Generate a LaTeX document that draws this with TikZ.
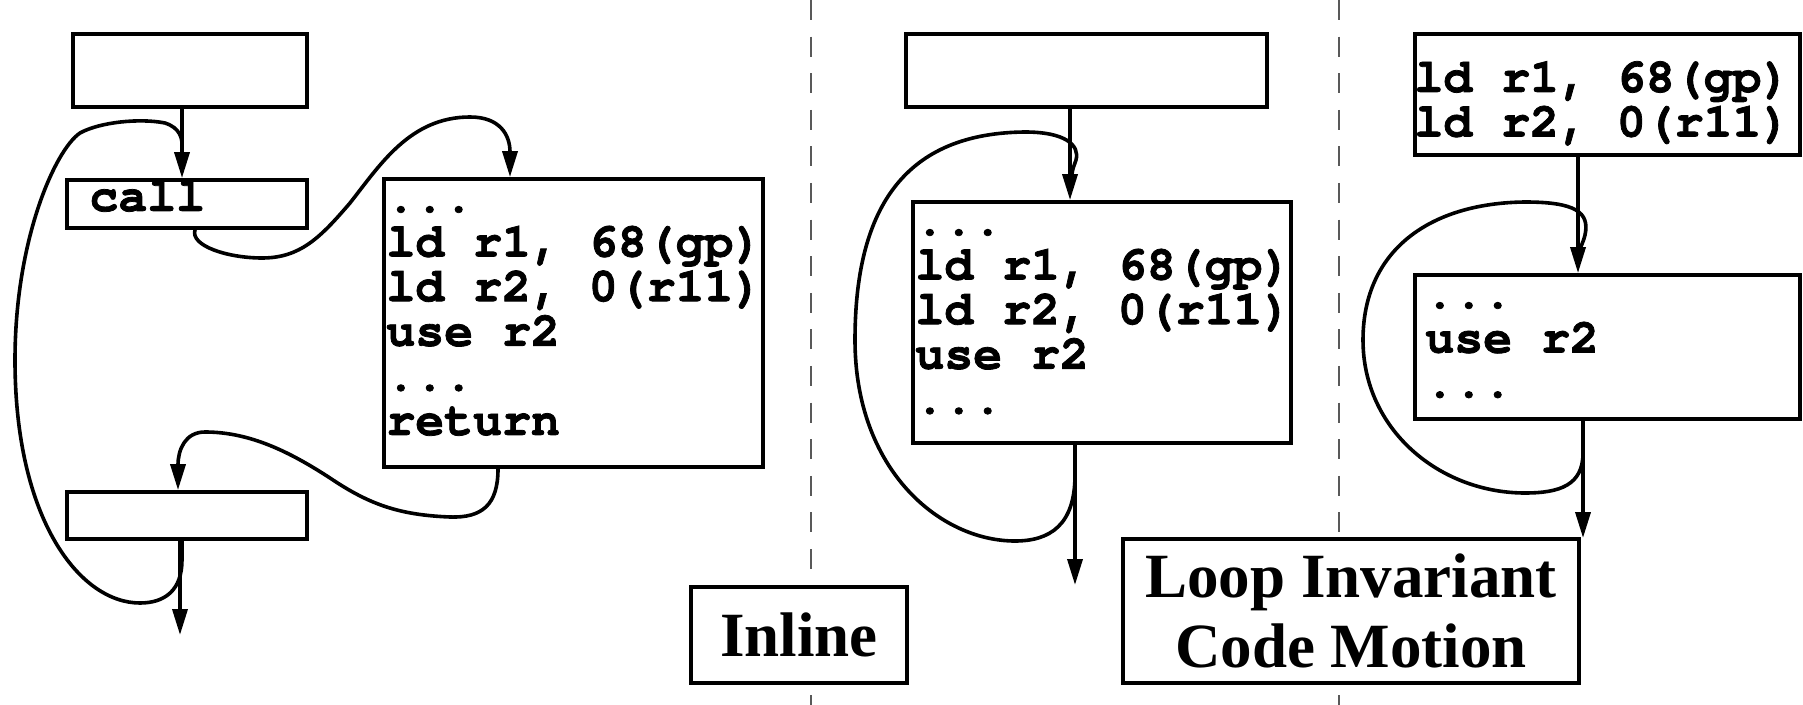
\documentclass[tikz,border=0pt]{standalone}
\usepackage{fontspec}
\usetikzlibrary{arrows.meta}
\newfontfamily\labelfont{Liberation Serif}
% heavy Courier for the instruction listings
\newfontfamily\cursorfont{texgyrecursor-bold.otf}[FakeBold=1.6]
\newcommand\asmfont{\cursorfont\fontsize{24.1}{22.3}\selectfont}
% stack of code lines; the base of the stack is the first baseline
\newcommand\codelines[1]{\vtop{\baselineskip=22.3pt\lineskiplimit=-\maxdimen #1}}
\begin{document}
\begin{tikzpicture}[x=0.5pt,y=-0.5pt,
  blk/.style={draw, line width=1.9pt, inner sep=0pt},
  code/.style={font=\asmfont, inner sep=0pt, anchor=base west},
  lbl/.style={blk, fill=white, font=\labelfont\bfseries\fontsize{31.5}{35}\selectfont, align=center},
  edge/.style={line width=1.8pt, line join=round},
  arr/.style={edge, -{Triangle[length=13pt,width=7.5pt]}},
  sep/.style={black!65, line width=1pt, dash pattern=on 10pt off 8.3pt}]
\useasboundingbox (0,0) rectangle (1803,705);

% column separators
\coordinate (s1t) at (811,0);   \coordinate (s1b) at (811,705);
\coordinate (s2t) at (1339,0);  \coordinate (s2b) at (1339,705);
\draw[sep] (s1t) -- (s1b);
\draw[sep] (s2t) -- (s2b);

% ---------- inlining: caller and callee ----------
\node[blk, minimum width=117pt, minimum height=36.5pt] (A) at (190,70.5) {};
\node[blk, minimum width=120pt, minimum height=24pt] (call) at (187,204) {};
\node[code] (callt) at (89,211) {call};
\node[blk, minimum width=120pt, minimum height=23.5pt] (bot) at (187,515.5) {};
\node[blk, minimum width=189.5pt, minimum height=144pt] (body) at (573.5,323) {};
\node[code] (bodyt) at (386,212) {\codelines{\hbox{...}\hbox{ld r1, 68(gp)}\hbox{ld r2, 0(r11)}\hbox{use r2}\hbox{...}\hbox{return}}};

\coordinate (lout) at (180,635);
\coordinate (lj) at (182,150);
\draw[arr] (A.south -| 182,0) -- (call.north -| 182,0);
\draw[arr] (bot.south -| 180,0) -- (lout);
% call into the body and back
\draw[arr] (call.south -| 195,0) .. controls (190,246) and (228,258) .. (262,258)
  .. controls (300,258) and (320,238) .. (350,203)
  .. controls (380,165) and (410,117) .. (470,117)
  .. controls (500,117) and (510,135) .. (body.north -| 510,0);
\draw[arr] (body.south -| 498,0) .. controls (498,505) and (482,518) .. (450,517)
  .. controls (400,515) and (370,505) .. (330,478)
  .. controls (290,452) and (250,432) .. (205,432)
  .. controls (185,432) and (178,450) .. (bot.north -| 178,0);
% enclosing loop
\draw[edge] (bot.south -| 182,0) -- (182,560) .. controls (182,590) and (165,603) .. (140,603)
  .. controls (80,603) and (15,520) .. (15,360)
  .. controls (15,240) and (55,150) .. (80,133)
  .. controls (100,122) and (140,118) .. (165,123)
  .. controls (180,128) and (183,138) .. (lj);

\node[lbl, minimum width=108pt, minimum height=48pt] (inl) at (799,635) {Inline};

% ---------- inlined body inside the loop ----------
\node[blk, minimum width=180.5pt, minimum height=36.5pt] (M1) at (1086.5,70.5) {};
\node[blk, minimum width=189pt, minimum height=120.5pt] (M2) at (1102,322.5) {};
\node[code] (M2t) at (915,235) {\codelines{\hbox{...}\hbox{ld r1, 68(gp)}\hbox{ld r2, 0(r11)}\hbox{use r2}\hbox{...}}};

\coordinate (mout) at (1075,585);
\coordinate (mj) at (1072,175);
\draw[arr] (M1.south -| 1070,0) -- (M2.north -| 1070,0);
\draw[arr] (M2.south -| 1075,0) -- (mout);
\draw[edge] (M2.south -| 1075,0) -- (1075,475) .. controls (1075,525) and (1050,541) .. (1015,541)
  .. controls (940,541) and (855,470) .. (855,340)
  .. controls (855,195) and (915,133) .. (1025,132)
  .. controls (1065,132) and (1080,145) .. (1076,160)
  .. controls (1074,166) and (1072,170) .. (mj);

% ---------- loads hoisted out of the loop ----------
\node[blk, minimum width=192.5pt, minimum height=60.5pt] (R1) at (1607.5,94.5) {};
\node[code] (R1t) at (1414,92) {\codelines{\hbox{ld r1, 68(gp)}\hbox{ld r2, 0(r11)}}};
\node[blk, minimum width=192.5pt, minimum height=72pt] (R2) at (1607.5,347) {};
\node[code] (R2t) at (1425,308) {\codelines{\hbox{...}\hbox{use r2}\hbox{...}}};

\coordinate (rout) at (1583,538);
\coordinate (rj) at (1579,252);
\draw[arr] (R1.south -| 1578,0) -- (R2.north -| 1578,0);
\draw[arr] (R2.south -| 1583,0) -- (rout);
\draw[edge] (R2.south -| 1583,0) -- (1583,453) .. controls (1583,485) and (1560,493) .. (1525,493)
  .. controls (1440,493) and (1363,430) .. (1363,340)
  .. controls (1363,250) and (1430,203) .. (1525,202)
  .. controls (1575,202) and (1590,212) .. (1585,235)
  .. controls (1583,243) and (1580,248) .. (rj);

\node[lbl, minimum width=228pt, minimum height=72pt] (licm) at (1351,611) {Loop Invariant\\Code Motion};
\end{tikzpicture}
\end{document}
